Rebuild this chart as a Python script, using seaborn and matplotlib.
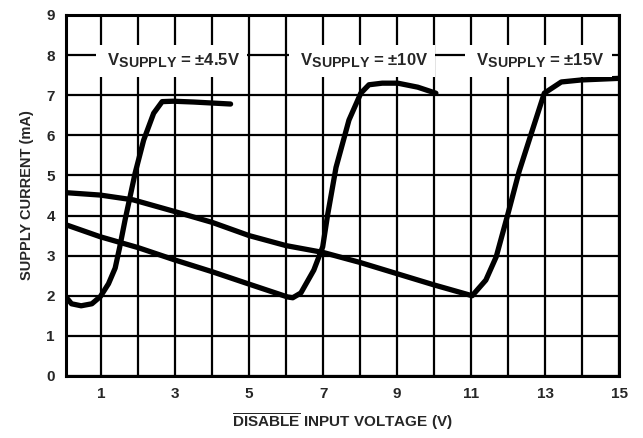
import numpy as np
import pandas as pd
import matplotlib
matplotlib.use("Agg")
from matplotlib import pyplot as plt
import matplotlib._mathtext as _mt
import seaborn as sns

# curve data (disable input voltage V, supply current mA)
x_45 = [0.05, 0.2, 0.46, 0.75, 0.98, 1.2, 1.38, 1.5, 1.65, 1.92, 2.15, 2.42, 2.65, 2.95, 3.5, 4.5]
y_45 = [1.97, 1.8, 1.75, 1.8, 1.98, 2.3, 2.69, 3.2, 3.9, 5.06, 5.88, 6.55, 6.84, 6.85, 6.83, 6.78]

x_10 = [0.05, 0.98, 2.0, 3.0, 4.0, 5.0, 6.04, 6.18, 6.4, 6.75, 6.99, 7.12, 7.35, 7.7, 8.02, 8.24, 8.6, 9.02, 9.56, 10.05]
y_10 = [3.77, 3.47, 3.2, 2.89, 2.6, 2.29, 1.97, 1.95, 2.07, 2.64, 3.22, 4.0, 5.2, 6.38, 7.05, 7.26, 7.3, 7.3, 7.2, 7.05]

x_15 = [0.05, 0.98, 1.87, 2.95, 4.0, 5.0, 6.0, 7.0, 8.0, 9.0, 10.0, 11.03, 11.4, 11.68, 12.0, 12.3, 12.63, 12.98, 13.44, 13.98, 15.0]
y_15 = [4.57, 4.51, 4.39, 4.11, 3.83, 3.5, 3.25, 3.08, 2.83, 2.55, 2.27, 2.0, 2.39, 2.97, 4.05, 5.1, 6.05, 7.05, 7.33, 7.38, 7.42]

supply_labels = ["\u00b14.5V", "\u00b110V", "\u00b115V"]
label_x = [2.9, 8.05, 12.82]
label_y = 7.85

x_ticks = [1, 3, 5, 7, 9, 11, 13, 15]
y_ticks = list(range(0, 10))

# bigger subscripts, like the datasheet lettering
_mt.SHRINK_FACTOR = 0.85

sns.set_style("white")
plt.rcParams["font.family"] = ["Liberation Sans", "DejaVu Sans"]
plt.rcParams["font.weight"] = "bold"
plt.rcParams["mathtext.fontset"] = "custom"
plt.rcParams["mathtext.rm"] = "Liberation Sans:bold"
plt.rcParams["mathtext.bf"] = "Liberation Sans:bold"
plt.rcParams["mathtext.it"] = "Liberation Sans:bold"

fig = plt.figure(figsize=(6.43, 4.38), dpi=100)
ax = fig.add_axes([0.1026, 0.1416, 0.8601, 0.8242])

for xs, ys in [(x_45, y_45), (x_10, y_10), (x_15, y_15)]:
    sns.lineplot(x=xs, y=ys, sort=False, color="black", lw=3.8, ax=ax, zorder=3)

ax.set_xlim(0.05, 15)
ax.set_ylim(0, 9)
ax.set_xticks(np.arange(1, 15), minor=True)
ax.set_xticks(x_ticks)
ax.set_yticks(y_ticks)
ax.grid(True, which="both", color="black", lw=1.6)
ax.tick_params(which="both", length=0, labelsize=11, pad=8)
for lab in ax.get_xticklabels() + ax.get_yticklabels():
    lab.set_fontweight("bold")
for sp in ax.spines.values():
    sp.set_color("black")
    sp.set_linewidth(2.2)

for lx, lab in zip(label_x, supply_labels):
    ax.text(lx, label_y, r" V$_{\mathrm{SUPPLY}}$ = " + lab + " ", ha="center", va="center",
            fontsize=12, fontweight="bold", zorder=4,
            bbox=dict(boxstyle="square,pad=0.42", fc="white", ec="none"))

ax.set_xlabel(r"$\overline{\mathrm{DISABLE}}$ INPUT VOLTAGE (V)", fontsize=11,
              fontweight="bold", labelpad=7)
ax.set_ylabel("SUPPLY CURRENT (mA)", fontsize=10.5, fontweight="bold", labelpad=9)

plt.savefig("out.png", dpi=100)
